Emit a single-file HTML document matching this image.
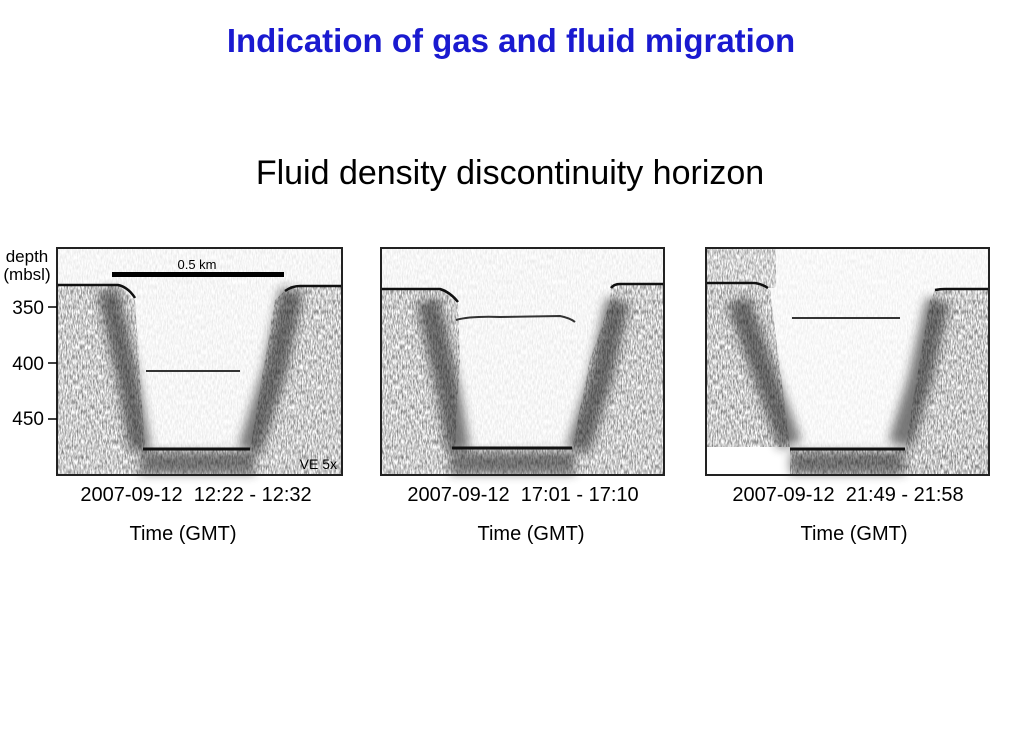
<!DOCTYPE html>
<html><head><meta charset="utf-8"><style>
html,body{margin:0;padding:0;background:#fff;}
body{width:1024px;height:738px;overflow:hidden;font-family:"Liberation Sans",sans-serif;}
</style></head><body>
<svg width="1024" height="738" xmlns="http://www.w3.org/2000/svg" font-family="Liberation Sans, sans-serif">
<defs>
<filter id="grain" x="0" y="0" width="100%" height="100%">
<feTurbulence type="fractalNoise" baseFrequency="0.8 0.2" numOctaves="2" seed="3" result="n"/>
<feColorMatrix in="n" type="matrix" values="0 0 0 0 0  0 0 0 0 0  0 0 0 0 0  0 0 0 1.5 -0.45" result="a"/>
<feComposite in="SourceGraphic" in2="a" operator="in"/>
</filter>
<filter id="blur"><feGaussianBlur stdDeviation="5"/></filter>
</defs>
<rect width="1024" height="738" fill="#fff"/>
<text x="511" y="52" text-anchor="middle" font-size="33" font-weight="bold" fill="#1a1ad0">Indication of gas and fluid migration</text>
<text x="510" y="184" text-anchor="middle" font-size="34" fill="#000">Fluid density discontinuity horizon</text>

<!-- Panel 1 -->
<g>
<rect x="57" y="248" width="285" height="227" fill="#fff"/>
<g filter="url(#grain)">
<path d="M57,285 L118,285 L135,300 L145,449 L250,449 L275,300 L290,286 L342,286 L342,475 L57,475Z" fill="#444"/>
<rect x="57" y="248" width="285" height="227" fill="#888" opacity="0.25"/>
</g>
<g filter="url(#blur)" opacity="0.6">
<path d="M108,290 L128,380 L140,450" stroke="#222" stroke-width="22" fill="none"/>
<path d="M292,290 L275,370 L250,450" stroke="#222" stroke-width="24" fill="none"/>
<rect x="140" y="452" width="115" height="22" fill="#333"/>
</g>
<path d="M57,285 L118,285 Q128,287 135,298 M285,291 Q292,286 300,286 L342,286" stroke="#111" stroke-width="2.5" fill="none"/>
<path d="M143,449 L250,449" stroke="#111" stroke-width="3"/>
<path d="M146,371 L240,371" stroke="#333" stroke-width="2"/>
<rect x="112" y="272" width="172" height="5" fill="#000"/>
<text x="197" y="269" text-anchor="middle" font-size="13">0.5 km</text>
<text x="337" y="469" text-anchor="end" font-size="14">VE 5x</text>
<rect x="57" y="248" width="285" height="227" fill="none" stroke="#222" stroke-width="2"/>
</g>
<text x="27" y="262" text-anchor="middle" font-size="17">depth</text>
<text x="27" y="280" text-anchor="middle" font-size="17">(mbsl)</text>
<text x="44" y="314" text-anchor="end" font-size="19">350</text>
<text x="44" y="370" text-anchor="end" font-size="19">400</text>
<text x="44" y="425" text-anchor="end" font-size="19">450</text>
<path d="M48,307H57M48,363H57M48,419H57" stroke="#000" stroke-width="1.5"/>

<!-- Panel 2 -->
<g>
<rect x="381" y="248" width="283" height="227" fill="#fff"/>
<g filter="url(#grain)">
<path d="M381,289 L445,289 L458,302 L460,360 L455,448 L572,448 L590,360 L610,302 L611,284 L664,284 L664,475 L381,475Z" fill="#444"/>
<rect x="381" y="248" width="283" height="227" fill="#888" opacity="0.25"/>
</g>
<g filter="url(#blur)" opacity="0.6">
<path d="M428,300 L448,390 L458,450" stroke="#222" stroke-width="24" fill="none"/>
<path d="M618,300 L600,380 L578,450" stroke="#222" stroke-width="24" fill="none"/>
<rect x="450" y="452" width="125" height="22" fill="#333"/>
</g>
<path d="M381,289 L440,289 Q450,292 458,302 M611,288 Q614,284 620,284 L664,284" stroke="#111" stroke-width="2.5" fill="none"/>
<path d="M452,448 L572,448" stroke="#111" stroke-width="3"/>
<path d="M456,320 Q470,316 500,317 L560,316 Q570,318 575,322" stroke="#333" stroke-width="2" fill="none"/>
<rect x="381" y="248" width="283" height="227" fill="none" stroke="#222" stroke-width="2"/>
</g>

<!-- Panel 3 -->
<g>
<rect x="706" y="248" width="283" height="227" fill="#fff"/>
<g filter="url(#grain)">
<path d="M706,283 L760,283 L770,290 L790,447 L706,447Z M790,449 L905,449 L930,300 L935,290 L989,290 L989,475 L790,475Z" fill="#444"/>
<rect x="706" y="248" width="70" height="40" fill="#666"/>
<rect x="706" y="248" width="283" height="199" fill="#888" opacity="0.2"/>
</g>
<g filter="url(#blur)" opacity="0.6">
<path d="M738,300 L770,390 L790,445" stroke="#222" stroke-width="24" fill="none"/>
<path d="M938,300 L920,380 L900,445" stroke="#222" stroke-width="24" fill="none"/>
<rect x="790" y="452" width="115" height="22" fill="#333"/>
</g>
<path d="M706,283 L755,283 Q762,284 768,288 M935,290 Q940,289 945,289 L989,289" stroke="#111" stroke-width="2.5" fill="none"/>
<path d="M790,449 L905,449" stroke="#111" stroke-width="3"/>
<path d="M792,318 L900,318" stroke="#333" stroke-width="2"/>
<rect x="706" y="248" width="283" height="227" fill="none" stroke="#222" stroke-width="2"/>
</g>

<g font-size="20" text-anchor="middle">
<text x="196" y="501">2007-09-12&#160;&#160;12:22 - 12:32</text>
<text x="523" y="501">2007-09-12&#160;&#160;17:01 - 17:10</text>
<text x="848" y="501">2007-09-12&#160;&#160;21:49 - 21:58</text>
</g>
<g font-size="20" text-anchor="middle">
<text x="183" y="540">Time (GMT)</text>
<text x="531" y="540">Time (GMT)</text>
<text x="854" y="540">Time (GMT)</text>
</g>
</svg>
</body></html>
